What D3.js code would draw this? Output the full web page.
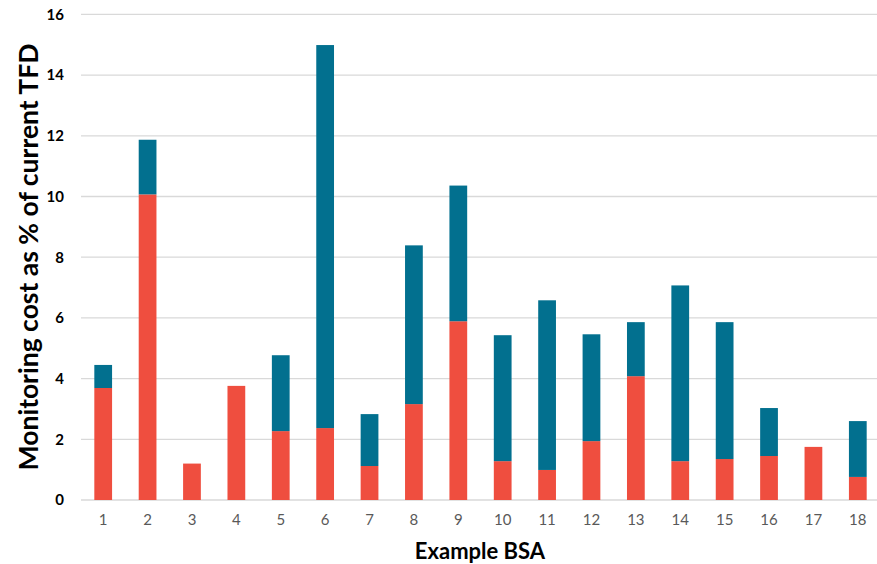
<!DOCTYPE html>
<html>
<head>
<meta charset="utf-8">
<script src="https://cdn.jsdelivr.net/npm/d3@7"></script>
<style>
  html, body { margin: 0; padding: 0; background: #fff; }
  svg { display: block; }
</style>
</head>
<body>
<svg id="chart" width="877" height="564"></svg>
<script>
// Example BSAs along the x axis
const categories = ["1","2","3","4","5","6","7","8","9","10","11","12","13","14","15","16","17","18"];
// Lower (red) segment of each stacked bar
const baseCost = [3.69, 10.07, 1.2, 3.76, 2.27, 2.37, 1.12, 3.16, 5.89, 1.28, 0.99, 1.94, 4.08, 1.28, 1.35, 1.45, 1.75, 0.76];
// Upper (teal) segment: additional cost on top of the base
const extraCost = [0.76, 1.8, 0, 0, 2.5, 12.62, 1.71, 5.23, 4.47, 4.15, 5.59, 3.52, 1.78, 5.79, 4.51, 1.58, 0, 1.84];
const yTicks = [0, 2, 4, 6, 8, 10, 12, 14, 16];

const svg = d3.select("#chart");
const FONT = "Lato, 'Open Sans', sans-serif";

const x = d3.scaleBand().domain(categories).range([81, 880]).paddingInner(0.6).paddingOuter(0.3);
const y = d3.scaleLinear().domain([0, 16]).range([500, 14.4]);

// horizontal gridlines
svg.append("g").selectAll("line").data(yTicks).join("line")
  .attr("x1", 81).attr("x2", 877)
  .attr("y1", d => y(d)).attr("y2", d => y(d))
  .attr("stroke", "#d9d9d9").attr("stroke-width", 1.3);

// stacked data
const rows = categories.map((c, i) => ({ cat: c, base: baseCost[i], extra: extraCost[i] }));
const stack = d3.stack().keys(["base", "extra"])(rows);
const colors = { base: "#ef4e3f", extra: "#02708f" };

svg.append("g").selectAll("g").data(stack).join("g")
  .attr("fill", s => colors[s.key])
  .selectAll("rect").data(s => s.filter(d => d[1] - d[0] > 0)).join("rect")
  .attr("x", d => x(d.data.cat))
  .attr("width", x.bandwidth())
  .attr("y", d => y(d[1]))
  .attr("height", d => y(d[0]) - y(d[1]));

// y axis tick labels
const yAxis = d3.axisLeft(y).tickValues(yTicks).tickSize(0).tickPadding(0);
const gy = svg.append("g").attr("transform", "translate(64,0)").call(yAxis);
gy.select(".domain").remove();
gy.selectAll("text")
  .attr("font-family", FONT)
  .attr("font-weight", "bold").attr("font-size", 15).attr("fill", "#000");

// x axis tick labels
const xAxis = d3.axisBottom(x).tickSize(0).tickPadding(14);
const gx = svg.append("g").attr("transform", "translate(0,500)").call(xAxis);
gx.select(".domain").remove();
gx.selectAll("text")
  .attr("font-family", FONT)
  .attr("font-size", 15).attr("fill", "#595959");

// axis titles
svg.append("text")
  .attr("transform", "translate(38,257) rotate(-90)")
  .attr("text-anchor", "middle")
  .attr("font-family", FONT)
  .attr("font-weight", "bold").attr("font-size", 26.5).attr("fill", "#000")
  .text("Monitoring cost as % of current TFD");

svg.append("text")
  .attr("x", 480).attr("y", 559)
  .attr("text-anchor", "middle")
  .attr("font-family", FONT)
  .attr("font-weight", "bold").attr("font-size", 22).attr("fill", "#000")
  .text("Example BSA");
</script>
</body>
</html>
